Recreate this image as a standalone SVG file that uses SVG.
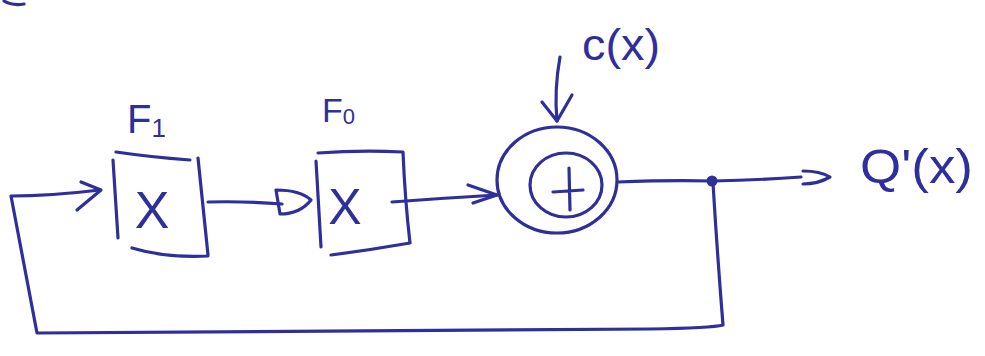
<svg xmlns="http://www.w3.org/2000/svg" width="985" height="356" viewBox="0 0 985 356">
<style>
.ink{fill:none;stroke:#2f2f9c;stroke-width:3.2;stroke-linecap:round;stroke-linejoin:round}
.txt{fill:#2f2f9c;font-family:"Liberation Sans",Arial,sans-serif}
</style>
<rect width="985" height="356" fill="#ffffff"/>
<path class="ink" d="M4,1 Q12,6 24,4" stroke-width="2.5"/>
<g id="connectors">
  <path id="feedback" class="ink" d="M713,183 Q717,250 723,325 Q712,328 650,329 L37,333 L15,217 L11,196 Q50,196 100,190"/>
  <path class="ink" d="M81,182 L101,190 L77,210"/>
  <path id="f1-f0" class="ink" d="M208,202 Q245,201 282,204"/>
  <path class="ink" d="M276,190 Q300,190 311,200 Q300,214 280,214 Z"/>
  <path id="f0-sum" class="ink" d="M392,202 Q445,198 497,195"/>
  <path class="ink" d="M468,185 L497,195 L473,203"/>
  <path id="c-sum" class="ink" d="M560,57 Q554,90 557,121"/>
  <path class="ink" d="M542,102 L557,121 L572,95"/>
  <path id="sum-out" class="ink" d="M618,182 Q670,180 713,181 Q760,180 801,177"/>
  <path class="ink" d="M803,171 Q820,171 830,177 Q818,184 803,184"/>
</g>
<g id="node-f1">
  <path class="ink" d="M113,160 L118,238 M116,152 Q150,157 190,160 M198,158 Q203,205 208,255 M132,248 Q165,258 208,256"/>
  <text class="txt" x="152" y="228" font-size="52" text-anchor="middle">X</text>
  <text class="txt" x="127" y="133" font-size="40">F<tspan font-size="26" dy="4">1</tspan></text>
</g>
<g id="node-f0">
  <path class="ink" d="M316,161 L321,247 M318,153 Q360,150 403,152 Q405,200 410,243 Q370,250 331,255"/>
  <text class="txt" x="345" y="224" font-size="50" text-anchor="middle">X</text>
  <text class="txt" x="322" y="122" font-size="34">F<tspan font-size="22" dy="2">0</tspan></text>
</g>
<g id="node-sum">
  <ellipse class="ink" cx="557" cy="180" rx="60" ry="53"/>
  <ellipse class="ink" cx="566" cy="185" rx="36" ry="32"/>
  <path class="ink" d="M569,168 L570,210 M553,192 L583,190"/>
</g>
<g id="node-junction">
  <circle cx="712" cy="181" r="5.5" fill="#2f2f9c"/>
</g>
<g id="label-c">
  <text class="txt" x="582" y="60" font-size="44" textLength="78" lengthAdjust="spacingAndGlyphs">c(x)</text>
</g>
<g id="label-q">
  <text class="txt" x="860" y="183" font-size="48" textLength="113" lengthAdjust="spacingAndGlyphs">Q'(x)</text>
</g>
</svg>
